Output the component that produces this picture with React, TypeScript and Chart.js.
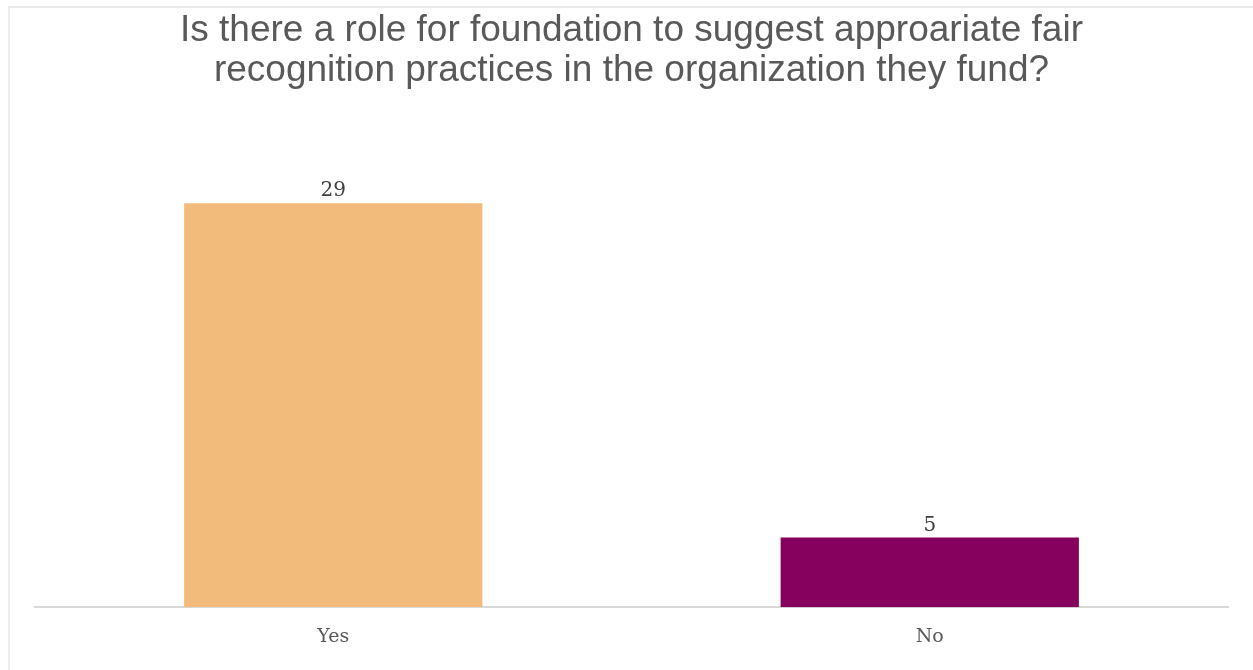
import React, { useEffect, useRef } from "react";
import { Chart, registerables } from "chart.js";

Chart.register(...registerables);

const categories = ["Yes", "No"];
const values = [29, 5];
const barColors = ["#F2BB7C", "#86005E"];
const titleLines = [
  "Is there a role for foundation to suggest approariate fair",
  "recognition practices in the organization they fund?",
];
const yMax = 34.7;

const valueLabels = {
  id: "valueLabels",
  afterDatasetsDraw(chart: any) {
    const ctx = chart.ctx;
    const meta = chart.getDatasetMeta(0);
    ctx.save();
    ctx.fillStyle = "#404040";
    ctx.font = '20px "DejaVu Serif", serif';
    ctx.textAlign = "center";
    ctx.textBaseline = "alphabetic";
    meta.data.forEach((bar: any, i: number) => {
      ctx.fillText(String(values[i]), bar.x, bar.y - 7);
    });
    ctx.restore();
  },
};

export default function App() {
  const ref = useRef<HTMLCanvasElement | null>(null);
  useEffect(() => {
    if (!ref.current) return;
    const chart = new Chart(ref.current, {
      type: "bar",
      data: {
        labels: categories,
        datasets: [
          {
            data: values,
            backgroundColor: barColors,
            borderWidth: 0,
            categoryPercentage: 0.5,
            barPercentage: 1,
          },
        ],
      },
      options: {
        animation: false,
        responsive: false,
        maintainAspectRatio: false,
        layout: { padding: { top: 0, left: 25, right: 25, bottom: 6 } },
        plugins: {
          legend: { display: false },
          tooltip: { enabled: false },
          title: {
            display: true,
            text: titleLines,
            color: "#595959",
            font: { family: '"Liberation Sans", Arial, sans-serif', size: 37, weight: "normal", lineHeight: "40px" as any },
            padding: { top: 3, bottom: 33 },
          },
        },
        scales: {
          x: {
            grid: { display: false, drawTicks: false },
            border: { display: true, color: "#D9D9D9", width: 2 },
            ticks: {
              color: "#595959",
              font: { family: '"DejaVu Serif", serif', size: 19 },
              padding: 18,
            },
          },
          y: {
            display: false,
            min: 0,
            max: yMax,
          },
        },
      },
      plugins: [valueLabels],
    });
    return () => chart.destroy();
  }, []);
  return (
    <div
      style={{
        position: "absolute",
        left: 8,
        top: 6,
        width: 1245,
        height: 664,
        borderTop: "2px solid #E9E9E9",
        borderLeft: "2px solid #ECECEC",
        background: "#fff",
      }}
    >
      <canvas ref={ref} width={1243} height={664} style={{ display: "block", width: 1243, height: 664 }} />
    </div>
  );
}
